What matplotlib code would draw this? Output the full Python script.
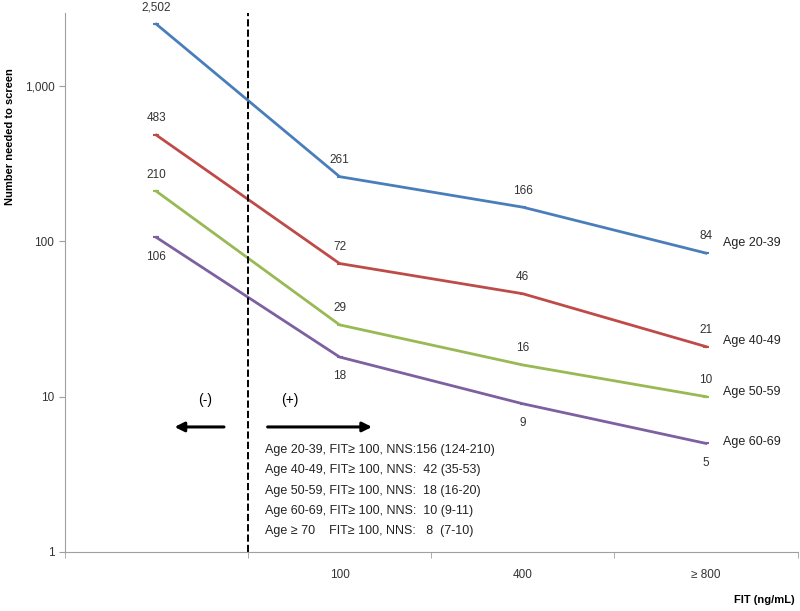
import matplotlib
matplotlib.use("Agg")
import matplotlib.pyplot as plt
from matplotlib.ticker import FixedLocator, FuncFormatter

plt.rcParams['font.family'] = ['Liberation Sans Narrow', 'Liberation Sans', 'DejaVu Sans']

# categories on the x axis (first one has no label)
categories = ["", "100", "400", "\u2265 800"]
series_names = ["Age 20-39", "Age 40-49", "Age 50-59", "Age 60-69"]
age_20_39 = [2502, 261, 166, 84]
age_40_49 = [483, 72, 46, 21]
age_50_59 = [210, 29, 16, 10]
age_60_69 = [106, 18, 9, 5]
all_series = [age_20_39, age_40_49, age_50_59, age_60_69]
colors = ["#4a7ebb", "#be4b48", "#98b954", "#7d60a0"]
name_offsets = [7, 4, 3, 1]

nns_lines = [
    "Age 20-39, FIT\u2265 100, NNS:156 (124-210)",
    "Age 40-49, FIT\u2265 100, NNS:  42 (35-53)",
    "Age 50-59, FIT\u2265 100, NNS:  18 (16-20)",
    "Age 60-69, FIT\u2265 100, NNS:  10 (9-11)",
    "Age \u2265 70    FIT\u2265 100, NNS:   8  (7-10)",
]

fig = plt.figure(figsize=(8, 6.11), dpi=100)
ax = fig.add_axes([0.081, 0.0966, 0.916, 0.882])

xs = list(range(len(categories)))
for i, vals in enumerate(all_series):
    ax.plot(xs, vals, color=colors[i], lw=2.0, marker="_", markersize=5, markeredgewidth=1.5)
    # purple labels go below, the rest above
    below = (i == 3)
    for x, v in zip(xs, vals):
        ax.annotate(f"{v:,}", (x, v), xytext=(0, -14 if below else 12), textcoords="offset points",
                    ha="center", va="center", fontsize=8.5, color="#333333")
    ax.annotate(series_names[i], (xs[-1], vals[-1]), xytext=(12, name_offsets[i]),
                textcoords="offset points", ha="left", va="center", fontsize=9, color="#222222")

ax.set_yscale("log")
ax.set_ylim(1, 2950)
ax.set_xlim(-0.5, 3.5)

# dashed cut-off line
ax.axvline(0.5, color="black", linestyle="--", lw=1.4)

# arrows and labels
ax.annotate("", xy=(0.146, 0.232), xytext=(0.221, 0.232), xycoords="axes fraction",
            arrowprops=dict(arrowstyle="-|>", color="black", lw=2.2, mutation_scale=14))
ax.annotate("", xy=(0.423, 0.232), xytext=(0.273, 0.232), xycoords="axes fraction",
            arrowprops=dict(arrowstyle="-|>", color="black", lw=2.2, mutation_scale=14))
ax.text(0.191, 0.282, "(-)", transform=ax.transAxes, ha="center", va="center", fontsize=10)
ax.text(0.307, 0.282, "(+)", transform=ax.transAxes, ha="center", va="center", fontsize=10)

y0 = 0.189
for k, line in enumerate(nns_lines):
    ax.text(0.273, y0 - k * 0.0375, line, transform=ax.transAxes, ha="left", va="center",
            fontsize=9, color="#222222")

# axes styling
for s in ["top", "right"]:
    ax.spines[s].set_visible(False)
for s in ["left", "bottom"]:
    ax.spines[s].set_color("#a0a0a0")

ax.yaxis.set_major_locator(FixedLocator([1, 10, 100, 1000]))
ax.yaxis.set_minor_locator(FixedLocator([]))
ax.yaxis.set_major_formatter(FuncFormatter(lambda v, p: f"{int(v):,}"))
ax.tick_params(axis="y", colors="#a0a0a0", labelcolor="#333333", labelsize=8.5, length=4)

ax.set_xticks(xs)
ax.set_xticklabels(categories)
ax.set_xticks([-0.5, 0.5, 1.5, 2.5, 3.5], minor=True)
ax.tick_params(axis="x", which="major", length=0, pad=12, labelcolor="#333333", labelsize=8.5)
ax.tick_params(axis="x", which="minor", length=4, color="#a0a0a0")

fig.text(0.0125, 0.776, "Number needed to screen", rotation=90, ha="center", va="center",
         fontsize=8, fontweight="bold")
fig.text(0.955, 0.018, "FIT (ng/mL)", ha="center", va="center", fontsize=8, fontweight="bold")

fig.savefig("out.png", dpi=100)
